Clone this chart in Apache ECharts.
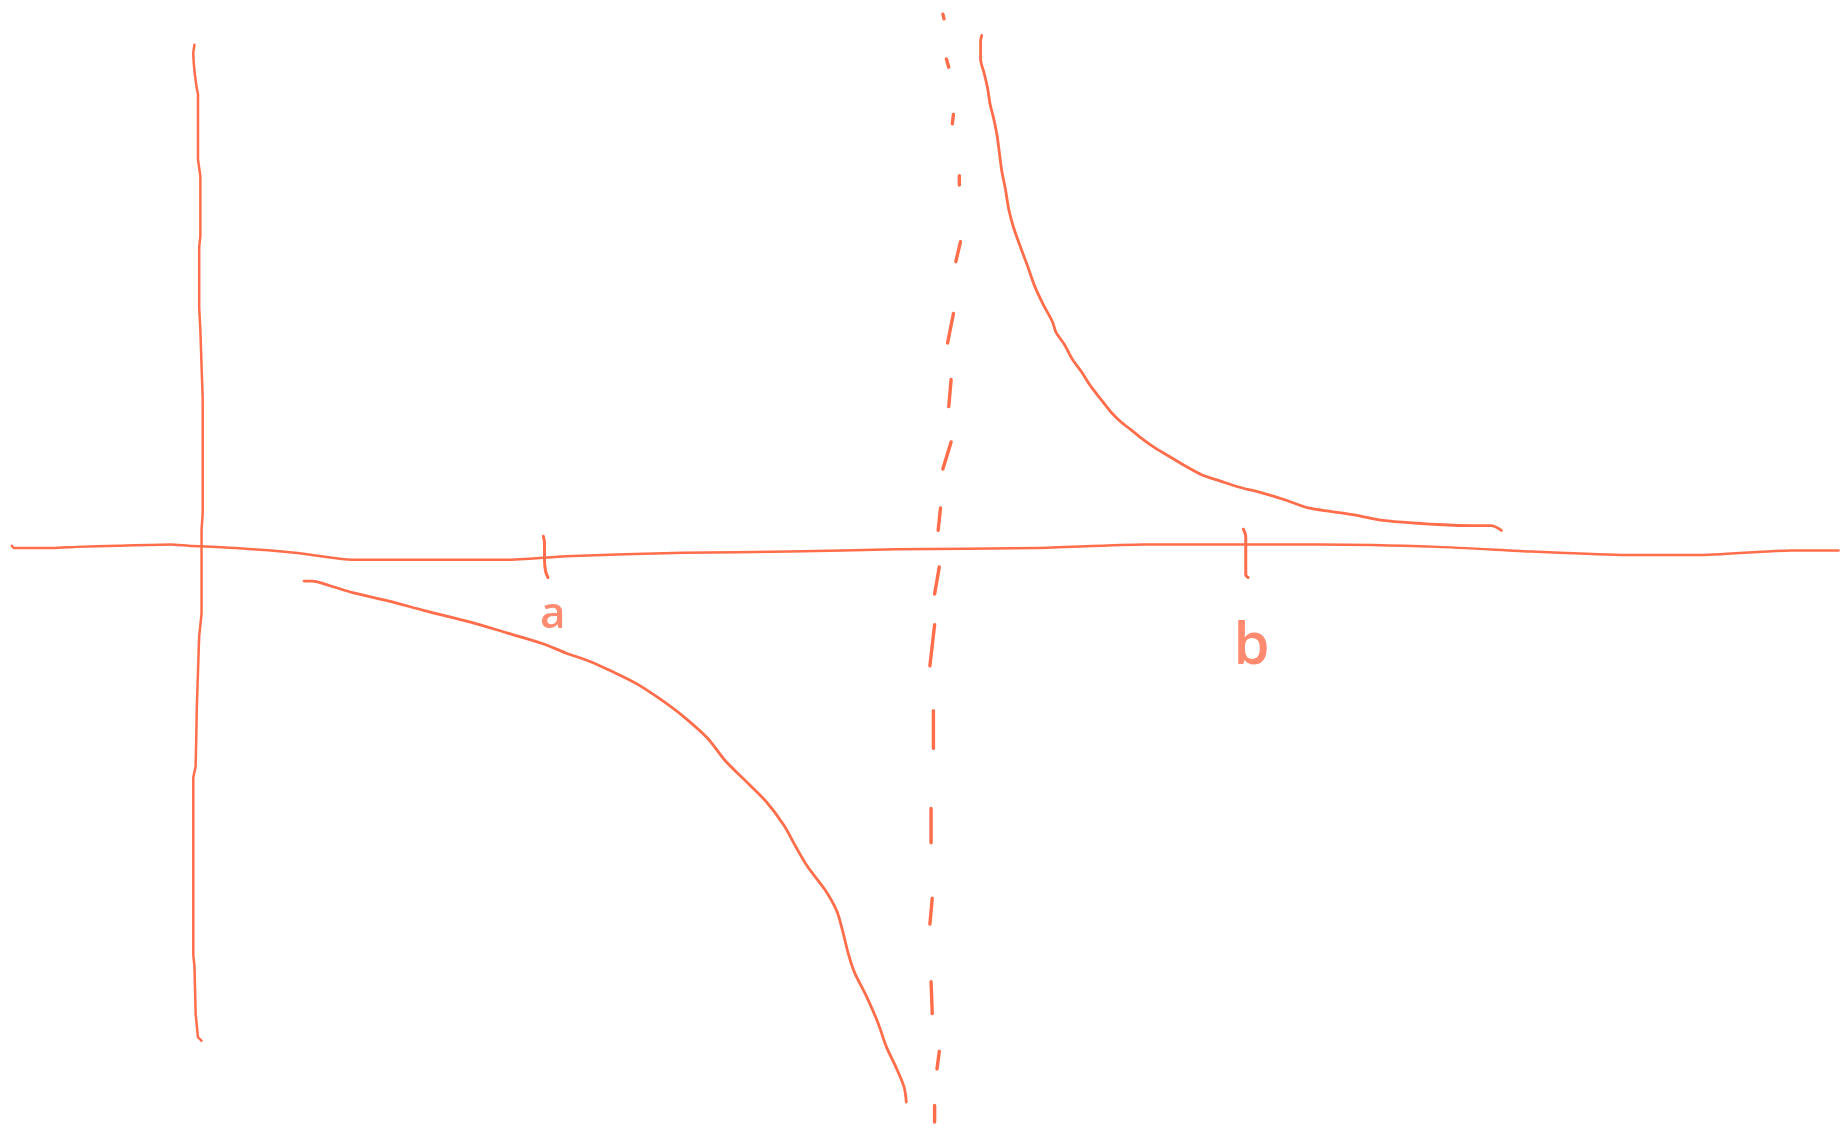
<!DOCTYPE html>
<html>
<head>
<meta charset="utf-8">
<script src="https://cdn.jsdelivr.net/npm/echarts@6/dist/echarts.min.js"></script>
<style>
html,body{margin:0;padding:0;background:#fff;}
#chart{width:1848px;height:1135px;}
</style>
</head>
<body>
<div id="chart"></div>
<script>
// Sketch coordinates: origin where the hand-drawn axes cross, y up.
const horizontalAxisStroke = [[-158,2],[-156,0],[-123,0],[-103,1],[-68,2],[-23,3],[-8,2],[32,0],[82,-4],[132,-10],[262,-10],[312,-7],[412,-4],[502,-3],[592,-1],[712,0],[802,3],[952,3],[1052,1],[1132,-3],[1212,-6],[1272,-6],[1352,-2],[1392,-2]];
const verticalAxisStroke = [[-3,427],[-4,420],[-3,405],[-1,390],[0,385],[0,330],[2,315],[2,265],[1,255],[1,205],[2,185],[3,155],[4,125],[4,30],[3,15],[3,-55],[1,-75],[0,-105],[-1,-135],[-2,-185],[-4,-195],[-4,-345],[-3,-355],[-2,-395],[-1,-405],[0,-415],[3,-418]];
const tickA = [[293,10],[294,5],[294,-10],[295,-20],[297,-25]];
const tickB = [[887,16],[889,10],[889,-23],[891,-25]];
const lowerBranch = [[90,-28],[97,-28],[112,-32],[132,-38],[162,-45],[192,-53],[232,-63],[262,-72],[292,-81],[312,-89],[332,-96],[352,-105],[372,-115],[392,-128],[412,-143],[432,-161],[447,-180],[462,-195],[482,-215],[497,-235],[507,-253],[517,-270],[532,-290],[542,-308],[547,-325],[552,-345],[557,-360],[567,-380],[577,-403],[584,-423],[592,-440],[599,-457],[601,-470]];
const upperBranch = [[665,435],[664,430],[664,415],[667,403],[670,390],[672,377],[675,365],[678,350],[680,335],[682,320],[685,305],[688,287],[692,272],[698,255],[704,239],[710,222],[717,207],[725,192],[728,183],[735,173],[742,160],[750,149],[757,138],[767,125],[775,115],[782,108],[792,100],[802,92],[812,85],[822,79],[837,70],[852,62],[867,57],[882,52],[902,47],[922,41],[942,34],[962,31],[982,28],[1002,24],[1022,22],[1052,20],[1082,19],[1097,19],[1106,15]];
const asymptoteDashes = [
  [[632,453],[633,449]],
  [[635,415],[637,408]],
  [[641,368],[640,360]],
  [[646,316],[646,308]],
  [[647,260],[643,243]],
  [[641,199],[636,174]],
  [[639,143],[637,120]],
  [[639,90],[632,67]],
  [[630,34],[628,15]],
  [[629,-16],[625,-39]],
  [[625,-65],[621,-100]],
  [[624,-138],[624,-170]],
  [[622,-221],[622,-250]],
  [[623,-297],[621,-319]],
  [[622,-368],[623,-395]],
  [[629,-427],[627,-442]],
  [[625,-473],[625,-487]]
];
const pointLabels = ['a','b'];
const pointLabelPositions = [[301,-57],[894,-84]];
const pointLabelSizes = [44, 58];

const ink = '#ff6d4b';
const dashData = [];
asymptoteDashes.forEach(d => { d.forEach(p => dashData.push(p)); dashData.push([null,null]); });

function stroke(data, width, smooth){
  return {
    type:'line', data:data, showSymbol:false, symbol:'none', smooth:smooth||false,
    silent:true, animation:false, connectNulls:false,
    lineStyle:{color:ink, width:width, cap:'round', join:'round'}
  };
}

const chart = echarts.init(document.getElementById('chart'), null, {renderer:'canvas'});
chart.setOption({
  backgroundColor:'#ffffff',
  animation:false,
  grid:{left:0,right:0,top:0,bottom:0},
  xAxis:{type:'value',min:-168,max:1400,show:false},
  yAxis:{type:'value',min:-498,max:465,show:false},
  series:[
    stroke(horizontalAxisStroke,2.5,0.2),
    stroke(verticalAxisStroke,2.5,0.1),
    stroke(tickA,3,0.2),
    stroke(tickB,3,0.2),
    stroke(lowerBranch,2.8,0.3),
    stroke(upperBranch,2.8,0.3),
    stroke(dashData,3.4,false),
    {
      type:'scatter', symbolSize:0, silent:true, animation:false,
      data: pointLabelPositions.map((p,i)=>({
        value:p, name:pointLabels[i],
        label:{fontSize:pointLabelSizes[i]}
      })),
      label:{show:true, position:'inside', formatter:p=>p.name,
        color:ink, fontFamily:'"Open Sans", sans-serif', fontWeight:600}
    }
  ]
});
</script>
</body>
</html>
